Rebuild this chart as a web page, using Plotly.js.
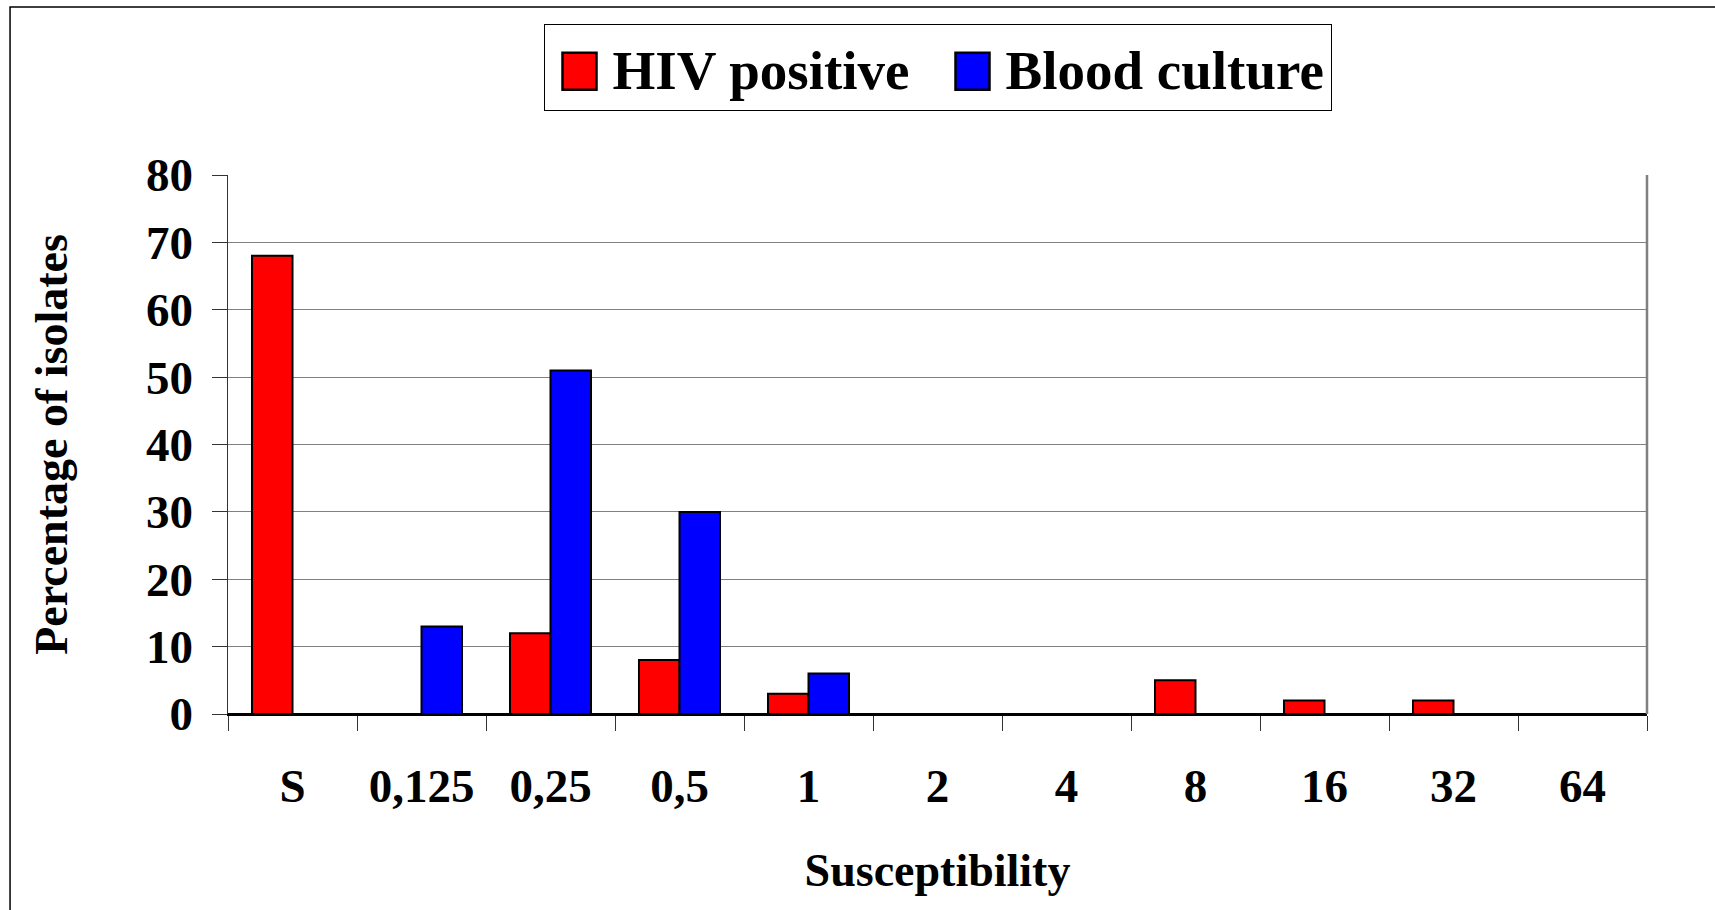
<!DOCTYPE html>
<html>
<head>
<meta charset="utf-8">
<script src="https://cdn.plot.ly/plotly-3.0.1.min.js"></script>
<style>
  html, body { margin: 0; padding: 0; background: #ffffff; }
  #chart { width: 1715px; height: 910px; }
</style>
</head>
<body>
<div id="chart"></div>
<script>
const categories = ["S", "0,125", "0,25", "0,5", "1", "2", "4", "8", "16", "32", "64"];
const hivPositive = [68, 0, 12, 8, 3, 0, 0, 5, 2, 2, 0];
const bloodCulture = [0, 13, 51, 30, 6, 0, 0, 0, 0, 0, 0];
const seriesNames = ["HIV positive", "Blood culture"];
const yTickValues = [0, 10, 20, 30, 40, 50, 60, 70, 80];

const FONT = "'Liberation Serif', 'Times New Roman', serif";

const traces = [
  {
    type: "bar",
    name: seriesNames[0],
    x: categories,
    y: hivPositive,
    marker: { color: "#ff0000", line: { color: "#000000", width: 2 } },
    hoverinfo: "x+y+name"
  },
  {
    type: "bar",
    name: seriesNames[1],
    x: categories,
    y: bloodCulture,
    marker: { color: "#0000ff", line: { color: "#000000", width: 2 } },
    hoverinfo: "x+y+name"
  }
];

const layout = {
  width: 1715,
  height: 910,
  paper_bgcolor: "#ffffff",
  plot_bgcolor: "#ffffff",
  margin: { l: 228, r: 68, t: 175, b: 196, pad: 0 },
  barmode: "group",
  bargap: 0.372,
  bargroupgap: 0,
  font: { family: FONT, color: "#000000", size: 47, weight: 700 },
  showlegend: true,
  legend: {
    orientation: "h",
    x: 0.5,
    xanchor: "center",
    y: 1.28,
    yanchor: "top",
    bgcolor: "#ffffff",
    bordercolor: "#000000",
    borderwidth: 1,
    font: { family: FONT, size: 55, color: "#000000", weight: 700 },
    itemwidth: 58,
    entrywidth: 320
  },
  xaxis: {
    type: "category",
    categoryorder: "array",
    categoryarray: categories,
    tickson: "boundaries",
    ticks: "outside",
    ticklen: 15,
    tickwidth: 1,
    tickcolor: "#333333",
    showline: true,
    linecolor: "#000000",
    linewidth: 2,
    showgrid: false,
    zeroline: false,
    ticklabelstandoff: 30,
    tickfont: { family: FONT, size: 47, color: "#000000", weight: 700 },
    title: {
      text: "Susceptibility",
      font: { family: FONT, size: 46, color: "#000000", weight: 700 },
      standoff: 42
    }
  },
  yaxis: {
    range: [0, 80],
    tickvals: yTickValues,
    ticktext: yTickValues.map(String),
    ticks: "outside",
    ticklen: 15,
    tickwidth: 1,
    tickcolor: "#333333",
    showline: true,
    linecolor: "#333333",
    linewidth: 1.5,
    showgrid: true,
    gridcolor: "#808080",
    gridwidth: 1.2,
    zeroline: true,
    zerolinecolor: "#000000",
    zerolinewidth: 2,
    ticklabelstandoff: 9,
    tickfont: { family: FONT, size: 47, color: "#000000", weight: 700 },
    title: {
      text: "Percentage of isolates",
      font: { family: FONT, size: 46, color: "#000000", weight: 700 },
      standoff: 64
    }
  },
  shapes: [
    {
      type: "line", xref: "paper", yref: "paper",
      x0: 1, x1: 1, y0: 0, y1: 1,
      line: { color: "#808080", width: 2.5 }
    },
    {
      type: "rect", xref: "paper", yref: "paper",
      x0: -0.1536, x1: 1.2, y0: -0.6, y1: 1.3117,
      line: { color: "#000000", width: 1.5 },
      fillcolor: "rgba(0,0,0,0)",
      layer: "below"
    }
  ]
};

// Enlarge the legend's colour keys to the reference's big square swatches
function enlargeLegendSwatches(gd) {
  const items = gd.querySelectorAll("g.legend g.traces");
  items.forEach(function (item) {
    const text = item.querySelector("text.legendtext");
    const bar = item.querySelector("g.legendpoints path");
    if (!text || !bar) return;
    const tRect = text.getBoundingClientRect();
    const tM = text.getScreenCTM();
    const baseline = tM.f + parseFloat(text.getAttribute("y") || 0);
    bar.removeAttribute("transform");
    const pM = bar.parentNode.getScreenCTM();
    const w = 34, h = 37, gap = 16;
    const x1 = tRect.left - gap - pM.e;
    const x0 = x1 - w;
    const y1 = baseline + 1 - pM.f;
    const y0 = y1 - h;
    bar.setAttribute("d", "M" + x0 + "," + y0 + "H" + x1 + "V" + y1 + "H" + x0 + "Z");
    bar.style.strokeWidth = "2.5px";
    bar.style.stroke = "#000000";
  });
}

const gdEl = document.getElementById("chart");
Plotly.newPlot(gdEl, traces, layout, { displayModeBar: false, staticPlot: true })
  .then(function (gd) {
    gd.on("plotly_afterplot", function () { enlargeLegendSwatches(gd); });
    enlargeLegendSwatches(gd);
    setTimeout(function () { enlargeLegendSwatches(gd); }, 50);
    setTimeout(function () { enlargeLegendSwatches(gd); }, 300);
  });
</script>
</body>
</html>
